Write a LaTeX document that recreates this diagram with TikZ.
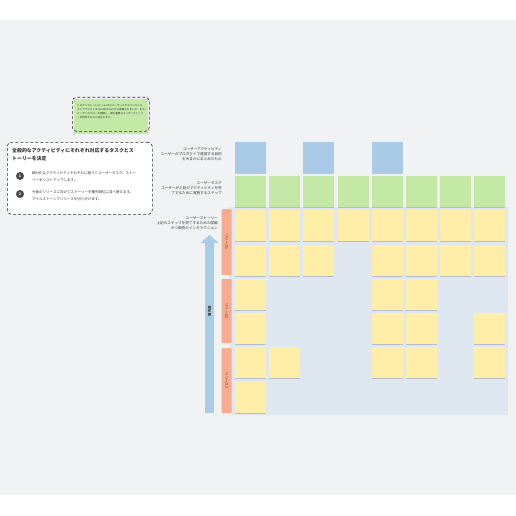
\documentclass[tikz,border=0pt]{standalone}
\usepackage{fontspec}
\setmainfont{Noto Sans CJK JP}
\usetikzlibrary{arrows.meta,shadows}
\definecolor{bggray}{HTML}{F1F2F4}
\definecolor{lanebg}{HTML}{DFE7F0}
\definecolor{stblue}{HTML}{A9CBE7}
\definecolor{stgreen}{HTML}{C4E8A6}
\definecolor{styellow}{HTML}{FFEEA8}
\definecolor{salmon}{HTML}{F7AB90}
\definecolor{arrowblue}{HTML}{A9CDE9}
\definecolor{darktxt}{HTML}{333333}
\definecolor{numgray}{HTML}{4A4A4A}
\tikzset{
  sticky/.style={anchor=north west, minimum width=31pt, minimum height=31pt, inner sep=0pt,
    drop shadow={shadow xshift=0pt, shadow yshift=-0.9pt, opacity=0.18, fill=black}},
  dashbox/.style={draw=darktxt, line width=0.6pt, dash pattern=on 3pt off 2pt, rounded corners=4pt},
  lbl/.style={anchor=north east, align=right, inner sep=0pt, text=darktxt, font=\fontsize{3.6}{5}\selectfont},
  relbox/.style={fill=salmon, rounded corners=1pt, rotate=-90, minimum height=10pt, inner sep=0pt,
    text=darktxt, font=\fontsize{3.4}{4}\selectfont},
  numdot/.style={circle, fill=numgray, minimum size=8pt, inner sep=0pt, text=white, font=\fontsize{3.6}{4}\selectfont\bfseries},
  itemtxt/.style={anchor=north west, align=left, inner sep=0pt, text=darktxt, font=\fontsize{3.5}{7}\selectfont}
}
\begin{document}
\begin{tikzpicture}[x=1pt,y=-1pt]
\useasboundingbox (0,0) rectangle (516,516);
\fill[white] (0,0) rectangle (516,516);
\fill[bggray] (0,20) rectangle (516,495);

% note
\fill[stgreen] (74,99) rectangle (148,134);
\node[dashbox, minimum width=77pt, minimum height=34pt, anchor=north west] (note) at (72,97) {};
\node[anchor=north west, align=left, inner sep=0pt, text=darktxt, font=\fontsize{2.55}{4}\selectfont] (notetxt) at (77,104)
 {このテンプレートは、Lucid のユーザーエクスペリエンス\\
  ストラテジスト Bryan Wellman から寄稿されました。また、\\
  ユーザーのフローを理解し、最も重要なユーザーストーリ\\
  ーを特定するのに役立ちます。};

% instructions box
\node[dashbox, fill=white, minimum width=145pt, minimum height=72pt, anchor=north west] (instr) at (7,142) {};
\node[anchor=north west, align=left, inner sep=0pt, text=darktxt, font=\fontsize{4.9}{8}\selectfont\bfseries] (title) at (12,148)
 {全般的なアクティビティにそれぞれ対応するタスクとス\\トーリーを決定};
\node[numdot] (n1) at (20,176) {1};
\node[numdot] (n2) at (20,194) {2};
\node[itemtxt] (t1) at (32,171.5) {細分化なアクティビティそれぞれに紐づくユーザータスク、ストー\\リーをリストアップします。};
\node[itemtxt] (t2) at (32,190) {今後のリリースに向けてストーリーを優先順位に並べ替えます。\\マイルストーンでリリースを切り分けます。};

% row labels
\node[lbl] (la) at (222,147) {ユーザーアクティビティ\\ユーザーがプロダクトで達成する目的\\を大まかにまとめたもの};
\node[lbl] (lb) at (222,181) {ユーザータスク\\ユーザーが上記のアクティビティを完\\了するために実施するステップ};
\node[lbl] (lc) at (218,216) {ユーザーストーリー\\上記のステップを完了するための詳細\\かつ個別のインタラクション};

% lane background
\fill[lanebg] (229,207) rectangle (508,415);

% release labels
\node[relbox, minimum width=66pt] (r1) at (226.5,242) {リリース1};
\node[relbox, minimum width=64pt] (r2) at (226.5,311) {リリース2};
\node[relbox, minimum width=65pt] (r3) at (226.5,380.5) {リリース3};

% priority arrow
\coordinate (pa) at (209.5,413);
\coordinate (pb) at (209.5,235);
\draw[arrowblue, line width=9pt, -{Triangle[width=18pt,length=8pt]}] (pa) -- (pb);
\node[rotate=90, inner sep=0pt, text=darktxt, font=\fontsize{3.4}{4}\selectfont\bfseries] (prio) at (209.5,311) {優先度};

% blue stickies
\foreach \c in {1,3,5} {
  \node[sticky, fill=stblue] (b\c) at ({235+34.14*(\c-1)},142) {};
}
% green stickies
\foreach \c in {1,...,8} {
  \node[sticky, fill=stgreen] (g\c) at ({235+34.14*(\c-1)},176) {};
}
% yellow stickies
\foreach \c in {1,...,8} {
  \node[sticky, fill=styellow] (y1-\c) at ({235+34.14*(\c-1)},210) {};
}
\foreach \c in {1,2,3,5,6,7,8} {
  \node[sticky, fill=styellow] (y2-\c) at ({235+34.14*(\c-1)},245) {};
}
\foreach \c in {1,5,6} {
  \node[sticky, fill=styellow] (y3-\c) at ({235+34.14*(\c-1)},279) {};
}
\foreach \c in {1,5,6,8} {
  \node[sticky, fill=styellow] (y4-\c) at ({235+34.14*(\c-1)},313) {};
}
\foreach \c in {1,2,5,6,8} {
  \node[sticky, fill=styellow] (y5-\c) at ({235+34.14*(\c-1)},347) {};
}
\foreach \c in {1} {
  \node[sticky, fill=styellow] (y6-\c) at ({235+34.14*(\c-1)},382) {};
}
\end{tikzpicture}
\end{document}
